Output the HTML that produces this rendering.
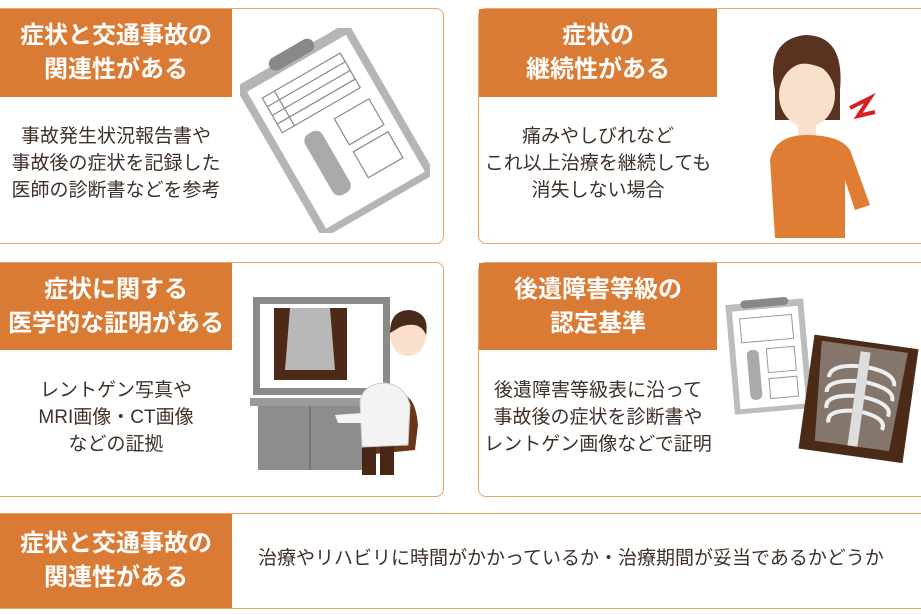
<!DOCTYPE html>
<html><head><meta charset="utf-8"><style>
*{margin:0;padding:0;box-sizing:border-box}
body{width:921px;height:614px;background:#fff;position:relative;overflow:hidden;font-family:"Liberation Sans","Noto Sans CJK JP",sans-serif}
.card{position:absolute;border:1.5px solid #f0a462;border-radius:8px;background:#fff}
.hd{position:absolute;background:#d97b34;color:#fff;font-weight:bold;font-size:24px;line-height:34px;text-align:center;display:flex;align-items:center;justify-content:center}
.tx{position:absolute;color:#3f3128;font-size:19px;line-height:27px;text-align:center;white-space:nowrap}
svg{position:absolute}
</style></head><body>
<div class="card" style="left:-10px;top:8px;width:454px;height:236px"></div>
<div class="card" style="left:478px;top:8px;width:460px;height:236px"></div>
<div class="card" style="left:-10px;top:262px;width:454px;height:235px"></div>
<div class="card" style="left:478px;top:262px;width:460px;height:235px"></div>
<div style="position:absolute;left:0;top:513px;width:921px;height:96px;border-top:1.5px solid #f0a462;border-bottom:1.5px solid #f0a462"></div>

<div class="hd" style="left:0;top:9px;width:232px;height:88px">症状と交通事故の<br>関連性がある</div>
<div class="hd" style="left:479px;top:9px;width:238px;height:88px">症状の<br>継続性がある</div>
<div class="hd" style="left:0;top:263px;width:232px;height:87px">症状に関する<br>医学的な証明がある</div>
<div class="hd" style="left:479px;top:263px;width:238px;height:87px">後遺障害等級の<br>認定基準</div>
<div class="hd" style="left:0;top:514px;width:232px;height:94px">症状と交通事故の<br>関連性がある</div>

<div class="tx" style="left:0;top:123px;width:232px">事故発生状況報告書や<br>事故後の症状を記録した<br>医師の診断書などを参考</div>
<div class="tx" style="left:479px;top:123px;width:238px">痛みやしびれなど<br>これ以上治療を継続しても<br>消失しない場合</div>
<div class="tx" style="left:0;top:377px;width:232px">レントゲン写真や<br>MRI画像・CT画像<br>などの証拠</div>
<div class="tx" style="left:479px;top:377px;width:238px">後遺障害等級表に沿って<br>事故後の症状を診断書や<br>レントゲン画像などで証明</div>
<div class="tx" style="left:258px;top:545px;width:640px;text-align:left">治療やリハビリに時間がかかっているか・治療期間が妥当であるかどうか</div>

<svg style="left:240px;top:28px" width="190" height="205" viewBox="0 0 190 205">
<g transform="rotate(-30 95 102)">
<rect x="30" y="15" width="130" height="175" fill="#b5b5b5"/>
<rect x="38" y="25" width="114" height="158" fill="#fff"/>
<rect x="70" y="8" width="50" height="14" rx="7" fill="#888"/>
<g stroke="#888" fill="none" stroke-width="1.2">
<rect x="48" y="38" width="90" height="40"/><line x1="48" y1="48" x2="138" y2="48"/><line x1="48" y1="58" x2="138" y2="58"/><line x1="48" y1="68" x2="138" y2="68"/><line x1="62" y1="38" x2="62" y2="78"/>
<rect x="100" y="92" width="40" height="30"/><rect x="100" y="130" width="40" height="30"/>
</g>
<rect x="62" y="92" width="20" height="70" rx="8" fill="#aaa"/>
</g></svg>

<svg style="left:750px;top:30px" width="140" height="210" viewBox="0 0 140 210">
<path d="M25 60 Q15 10 55 5 Q95 5 90 60 L90 90 L25 90Z" fill="#5a3320"/>
<ellipse cx="57" cy="65" rx="28" ry="32" fill="#fbe0cc"/>
<path d="M30 50 Q45 20 85 45 L85 35 Q60 5 30 35Z" fill="#5a3320"/>
<rect x="48" y="92" width="18" height="20" fill="#fbe0cc"/>
<path d="M20 130 Q25 105 57 105 Q90 105 100 120 L120 175 L105 180 L95 150 L95 208 L25 208 Z" fill="#e07d35"/>
<path d="M100 78 L120 68 L108 86 L125 82" stroke="#d42020" stroke-width="4" fill="none"/>
</svg>

<svg style="left:250px;top:295px" width="180" height="190" viewBox="0 0 180 190">
<rect x="3" y="2" width="137" height="98" fill="#8a8a8a"/>
<rect x="10" y="9" width="123" height="84" fill="#fff"/>
<rect x="24" y="13" width="73" height="72" fill="#4d2a18"/>
<path d="M40 13 L80 13 L85 75 L35 75Z" fill="#b8b8b8"/>
<rect x="8" y="107" width="112" height="68" fill="#8d8d8d"/>
<rect x="0" y="103" width="122" height="8" fill="#9a9a9a"/>
<line x1="60" y1="111" x2="60" y2="175" stroke="#777" stroke-width="2"/>
<path d="M145 100 Q165 95 168 130 L165 155 L115 160 Z" fill="#6b3519"/>
<rect x="112" y="150" width="14" height="30" fill="#4a2617"/><rect x="130" y="150" width="14" height="30" fill="#4a2617"/>
<path d="M110 105 Q115 88 135 88 Q155 90 160 110 L158 150 L112 152Z" fill="#f3f3f3" stroke="#ccc"/>
<ellipse cx="158" cy="40" rx="18" ry="21" fill="#fbe0cc"/>
<path d="M140 38 Q140 15 160 15 Q180 18 176 40 Q170 25 150 32Z" fill="#4a2a18"/>
<path d="M85 120 L112 118 L112 128 L88 128Z" fill="#f3f3f3"/>
</svg>

<svg style="left:725px;top:296px" width="196" height="170" viewBox="0 0 196 170">
<g transform="rotate(-5 50 60)">
<rect x="5" y="5" width="78" height="110" fill="#bdbdbd"/>
<rect x="11" y="12" width="66" height="98" fill="#fff"/>
<rect x="20" y="2" width="48" height="8" rx="4" fill="#888"/>
<g stroke="#999" fill="none"><rect x="18" y="20" width="52" height="24"/><rect x="42" y="52" width="28" height="24"/><rect x="42" y="82" width="28" height="20"/></g>
<rect x="22" y="52" width="12" height="50" rx="5" fill="#aaa"/>
</g>
<g transform="rotate(8 130 110)">
<rect x="80" y="45" width="105" height="115" fill="#4b2a18"/>
<path d="M88 50 L175 50 L170 150 L95 150Z" fill="#b5b5b5" opacity="0.55"/>
<g stroke="#eee" stroke-width="4" fill="none">
<path d="M128 70 Q100 72 100 85"/><path d="M128 85 Q98 88 100 100"/><path d="M128 100 Q98 103 102 116"/><path d="M128 115 Q102 118 106 130"/>
<path d="M138 70 Q166 72 166 85"/><path d="M138 85 Q168 88 166 100"/><path d="M138 100 Q168 103 164 116"/><path d="M138 115 Q164 118 160 130"/>
</g>
<rect x="128" y="55" width="10" height="95" fill="#ddd"/>
</g>
</svg>
</body></html>
